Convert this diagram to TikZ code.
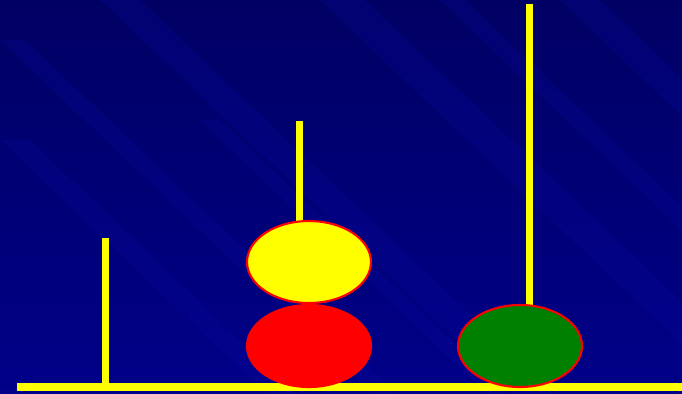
\documentclass[tikz,border=0pt]{standalone}
\usetikzlibrary{shapes.geometric}
\begin{document}
\begin{tikzpicture}[x=0.02cm,y=-0.02cm]
	
	% ---- Adjustable colors ----
	\definecolor{bgTop}{RGB}{0,0,100}
	\definecolor{bgBottom}{RGB}{0,0,136}
	\definecolor{streakBlue}{RGB}{10,10,165}
	\definecolor{poleYellow}{RGB}{255,255,0}
	\definecolor{diskRed}{RGB}{255,0,0}
	\definecolor{diskGreen}{RGB}{0,128,0}
	\tikzset{
		pole/.style={draw=none, fill=poleYellow},
		disk/.style={ellipse, draw=diskRed, line width=1.2pt, minimum width=2.48cm, minimum height=1.64cm, inner sep=0pt}
	}
	
	% ---- Background ----
	\shade[top color=bgTop, bottom color=bgBottom] (0,0) rectangle (682,393);
	\useasboundingbox (0,0) rectangle (682,393);
	
	% ---- Diagonal streaks ----
	\begin{scope}
		\clip (0,0) rectangle (682,393);
		\foreach \sx/\sy/\w in {
			100/0/40,
			320/0/45,
			440/0/25,
			560/0/40,
			0/140/30,
			0/40/25,
			200/120/20
		}
		{
			\fill[streakBlue, opacity=0.22] (\sx,\sy) -- ++(\w,0) -- ++(420,400) -- ++(-\w,0) -- cycle;
		}
	\end{scope}
	
	% ---- Poles and base ----
	\fill[pole] (102,238) rectangle (109,386);
	\fill[pole] (296,121) rectangle (303,240);
	\fill[pole] (526,4) rectangle (533,320);
	\fill[pole] (17,383) rectangle (682,391);
	
	% ---- Disks ----
	\node[disk, fill=diskRed] (diskBottom) at (309,346) {};
	\node[disk, fill=poleYellow] (diskTop) at (309,262) {};
	\node[disk, fill=diskGreen] (diskRight) at (520,346) {};
	
\end{tikzpicture}
\end{document}
